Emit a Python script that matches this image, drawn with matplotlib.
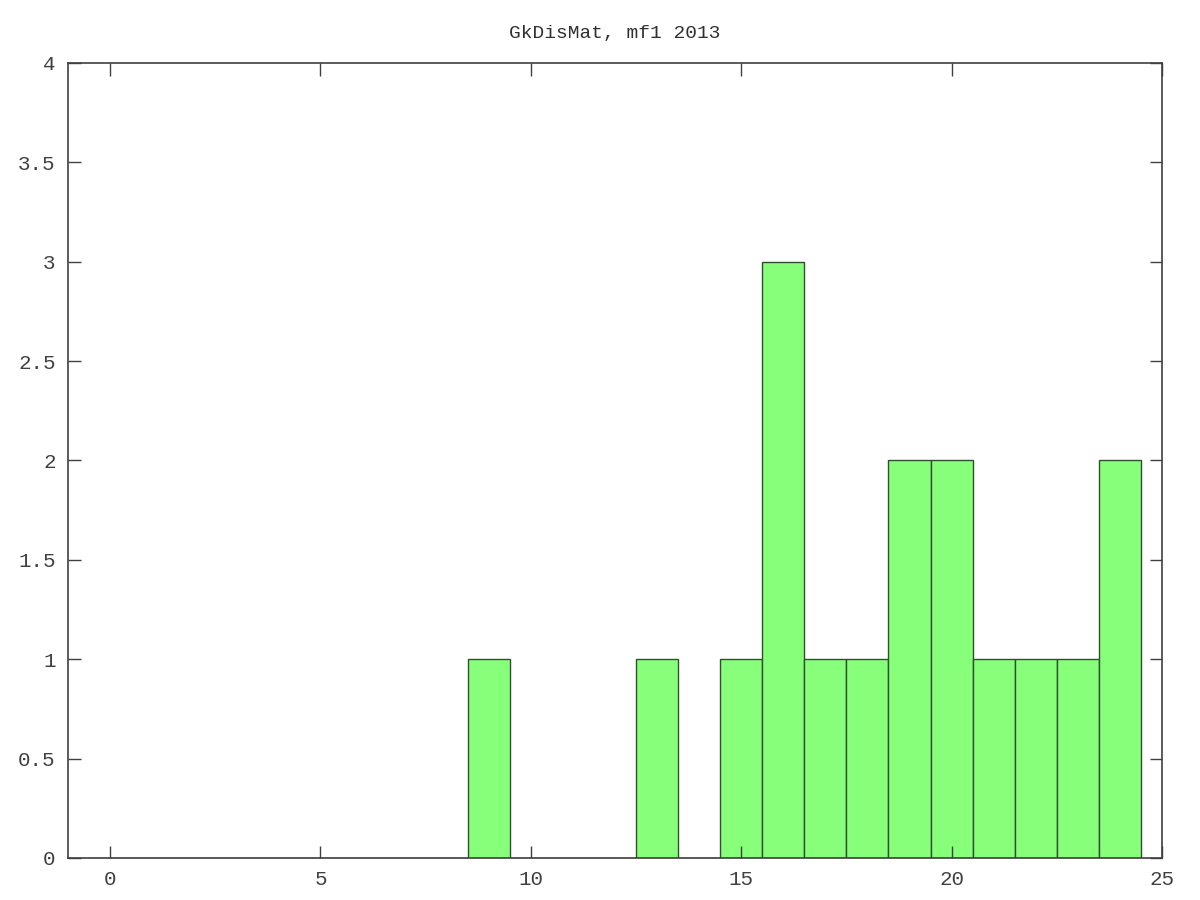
import numpy as np
import matplotlib
matplotlib.use('Agg')
import matplotlib.pyplot as plt

### Data
bins = np.arange(0, 25)
counts = [0, 0, 0, 0, 0, 0, 0, 0, 0, 1, 0, 0, 0, 1, 0,
          1, 3, 1, 1, 2, 2, 1, 1, 1, 2]
xticks = [0, 5, 10, 15, 20, 25]
yticks = [0, 0.5, 1, 1.5, 2, 2.5, 3, 3.5, 4]
ytick_labels = ['0', '0.5', '1', '1.5', '2', '2.5', '3', '3.5', '4']

### Plot
fig = plt.figure(figsize=(12, 9), dpi=100)
ax = fig.add_axes([0.0567, 0.0467, 0.9116, 0.8833])

ax.bar(bins, counts, width=1.0, color='#88ff7a', edgecolor='#2e502e', linewidth=1.0)

ax.set_xlim(-1, 25)
ax.set_ylim(0, 4)
ax.set_xticks(xticks)
ax.set_yticks(yticks)
ax.set_yticklabels(ytick_labels)

ax.tick_params(direction='in', length=9, width=1, color='#404040',
               top=True, right=True, labelsize=15, labelcolor='#404040', pad=9)
for lab in ax.get_xticklabels() + ax.get_yticklabels():
    lab.set_family('Liberation Mono')
for sp in ax.spines.values():
    sp.set_color('#404040')
    sp.set_linewidth(1.2)

ax.set_title('GkDisMat, mf1 2013', family='Liberation Mono', fontsize=14,
             color='#303030', pad=18)

plt.savefig('out.png', dpi=100)
